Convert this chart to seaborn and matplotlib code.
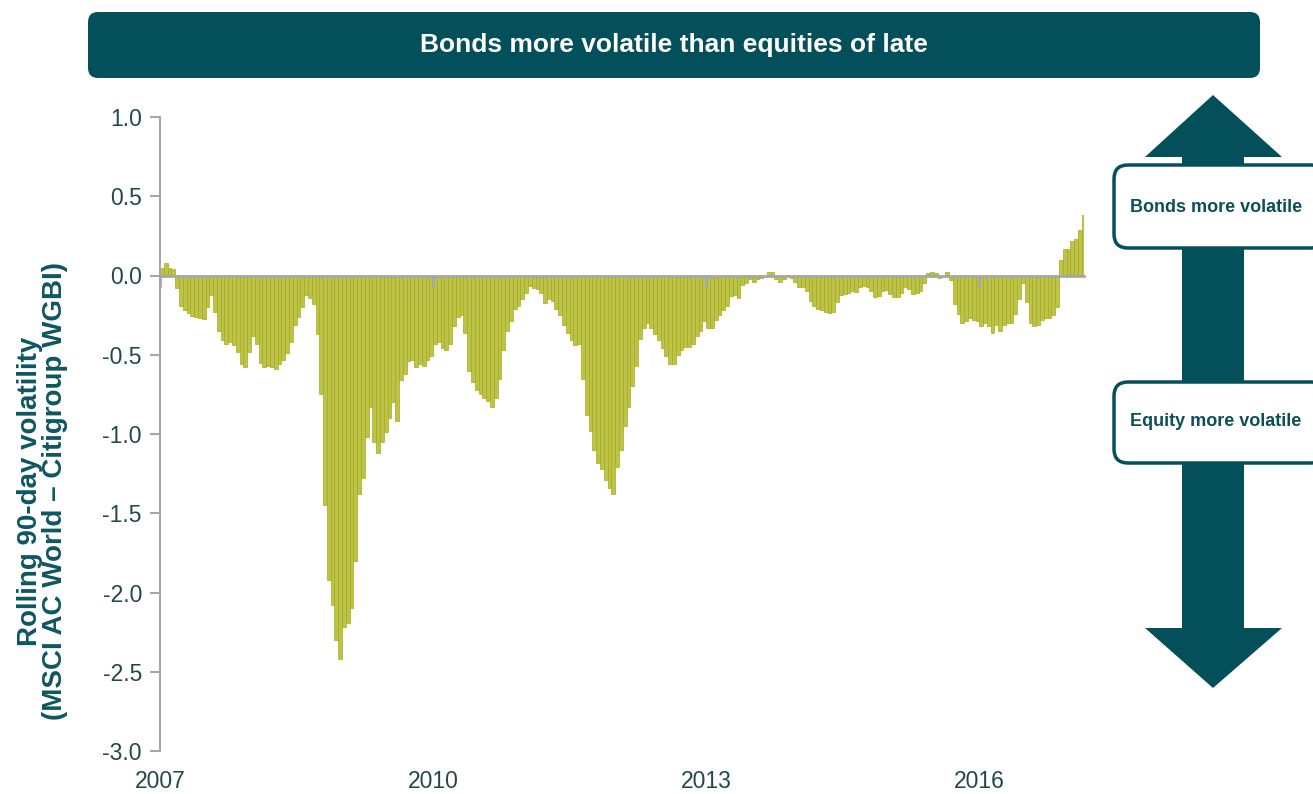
import matplotlib
matplotlib.use("Agg")
import matplotlib.pyplot as plt
import matplotlib.transforms as mtransforms
from matplotlib.patches import FancyBboxPatch, Polygon
from matplotlib.ticker import FormatStrFormatter
import seaborn as sns
import numpy as np
import pandas as pd

# rolling 90-day volatility difference, semi-monthly readings, Jan 2007 -> early 2017
vol_diff = [
    0.05, 0.08, 0.05, 0.04, -0.08, -0.19, -0.22, -0.235, -0.255, -0.26,
    -0.265, -0.275, -0.2, -0.12, -0.23, -0.35, -0.41, -0.43, -0.42, -0.44,
    -0.48, -0.56, -0.58, -0.48, -0.38, -0.43, -0.55, -0.58, -0.57, -0.58,
    -0.59, -0.56, -0.53, -0.49, -0.42, -0.31, -0.26, -0.2, -0.12, -0.14,
    -0.18, -0.37, -0.75, -1.45, -1.92, -2.08, -2.3, -2.42, -2.22, -2.19,
    -2.1, -1.8, -1.38, -1.28, -1.02, -0.83, -1.05, -1.12, -1.05, -0.99,
    -0.9, -0.8, -0.92, -0.66, -0.62, -0.54, -0.53, -0.58, -0.56, -0.57,
    -0.53, -0.51, -0.43, -0.42, -0.46, -0.47, -0.43, -0.32, -0.26, -0.25,
    -0.36, -0.6, -0.67, -0.72, -0.75, -0.77, -0.79, -0.83, -0.77, -0.65,
    -0.47, -0.35, -0.29, -0.21, -0.19, -0.15, -0.11, -0.065, -0.08, -0.085,
    -0.11, -0.175, -0.15, -0.16, -0.21, -0.25, -0.31, -0.36, -0.41, -0.44,
    -0.43, -0.65, -0.88, -0.98, -1.1, -1.18, -1.22, -1.29, -1.34, -1.38,
    -1.21, -1.1, -0.95, -0.83, -0.7, -0.57, -0.4, -0.33, -0.3, -0.33,
    -0.37, -0.41, -0.46, -0.51, -0.56, -0.56, -0.5, -0.47, -0.45, -0.45,
    -0.43, -0.38, -0.35, -0.29, -0.33, -0.33, -0.28, -0.25, -0.22, -0.19,
    -0.13, -0.12, -0.14, -0.06, -0.045, -0.025, -0.04, -0.02, -0.015, -0.005,
    0.025, 0.02, -0.02, -0.04, -0.02, 0.005, -0.015, -0.04, -0.075, -0.07,
    -0.1, -0.16, -0.19, -0.21, -0.22, -0.23, -0.235, -0.23, -0.17, -0.12,
    -0.115, -0.11, -0.1, -0.105, -0.07, -0.065, -0.075, -0.1, -0.135, -0.13,
    -0.1, -0.09, -0.115, -0.135, -0.135, -0.11, -0.075, -0.085, -0.115, -0.11,
    -0.095, -0.05, 0.015, 0.025, 0.015, -0.015, -0.01, 0.02, -0.03, -0.18,
    -0.24, -0.3, -0.29, -0.27, -0.28, -0.29, -0.32, -0.3, -0.32, -0.36,
    -0.31, -0.35, -0.31, -0.3, -0.3, -0.24, -0.15, -0.05, -0.17, -0.3,
    -0.32, -0.31, -0.28, -0.27, -0.27, -0.25, -0.2, 0.1, 0.17, 0.17,
    0.22, 0.23, 0.29, 0.38,
]
# semi-monthly observation dates as decimal years
obs_year = 2007 + (np.arange(len(vol_diff)) + 0.5) / 24

year_ticks = [2007, 2010, 2013, 2016]
y_ticks = [-3.0, -2.5, -2.0, -1.5, -1.0, -0.5, 0.0, 0.5, 1.0]

title = "Bonds more volatile than equities of late"
ylab = "Rolling 90-day volatility\n(MSCI AC World \u2013 Citigroup WGBI)"
top_box = "Bonds more volatile"
bottom_box = "Equity more volatile"

teal = "#03505B"
bar_face = "#BDC24E"
bar_edge = "#A6AE08"
grey = "#A3A8A8"
tick_col = "#24474C"

sns.set_theme(style="white")
plt.rcParams["font.family"] = ["Liberation Sans", "DejaVu Sans"]
plt.rcParams["axes.unicode_minus"] = False

W, H = 1313, 794
fig = plt.figure(figsize=(W / 100, H / 100), dpi=100)
ax = fig.add_axes([160 / W, 1 - 751 / H, 924 / W, 634 / H])

df = pd.DataFrame({"year": obs_year, "vol": vol_diff})
sns.barplot(data=df, x="year", y="vol", native_scale=True, color=bar_face,
            saturation=1, edgecolor=bar_edge, linewidth=0.5, width=1.0,
            errorbar=None, ax=ax)

ax.set_xlim(2007, 2017.15)
ax.set_ylim(-3, 1)
ax.set_axisbelow(False)

for s in ["top", "right"]:
    ax.spines[s].set_visible(False)
ax.spines["left"].set_color(grey)
ax.spines["left"].set_linewidth(1.5)
# x axis line crosses at zero
ax.spines["bottom"].set_position(("data", 0))
ax.spines["bottom"].set_color(grey)
ax.spines["bottom"].set_linewidth(2)
ax.spines["bottom"].set_zorder(3)

ax.set_yticks(y_ticks)
ax.yaxis.set_major_formatter(FormatStrFormatter("%.1f"))
ax.tick_params(axis="y", left=True, length=7, width=1.5, color=grey,
               labelsize=16.5, labelcolor=tick_col, pad=6)
ax.set_xticks(year_ticks)
ax.tick_params(axis="x", bottom=True, direction="out", length=8, width=2,
               color=grey, labelbottom=False)
ax.set_xlabel("")

# year labels at the bottom of the plot
low_ax = ax.secondary_xaxis("bottom")
low_ax.spines["bottom"].set_visible(False)
low_ax.set_xticks(year_ticks)
low_ax.set_xticklabels([str(y) for y in year_ticks])
low_ax.tick_params(axis="x", length=0, labelsize=16.5, labelcolor=tick_col, pad=14)

ax.set_ylabel(ylab, fontsize=20, fontweight="bold", color="#0E5660",
              multialignment="center", linespacing=0.92)
ax.yaxis.set_label_coords(-0.10, 0.41)

px = mtransforms.IdentityTransform()


def box(x0, y0, x1, y1, face, edge, lw, r):
    fig.add_artist(FancyBboxPatch((x0, H - y1), x1 - x0, y1 - y0,
                                  boxstyle=f"round,pad=0,rounding_size={r}",
                                  fc=face, ec=edge, lw=lw, transform=px))


# title banner
box(88, 12, 1260, 78, teal, teal, 0, 10)
fig.text(674 / W, 1 - 45 / H, title, color="white", fontsize=19,
         fontweight="bold", ha="center", va="center")

# double headed arrow
pts = [(1213, 95), (1282, 157), (1244, 157), (1244, 628), (1282, 628),
       (1213, 688), (1145, 628), (1182, 628), (1182, 157), (1145, 157)]
fig.add_artist(Polygon([(x, H - y) for x, y in pts], closed=True,
                       fc=teal, ec="none", transform=px))

box(1114, 165, 1325, 248, "white", teal, 2.5, 14)
box(1114, 382, 1325, 463, "white", teal, 2.5, 14)
fig.text(1216 / W, 1 - 207 / H, top_box, color="#0D4F58", fontsize=13,
         fontweight="bold", ha="center", va="center")
fig.text(1216 / W, 1 - 422 / H, bottom_box, color="#0D4F58", fontsize=13,
         fontweight="bold", ha="center", va="center")

fig.savefig("out.png", dpi=100)
